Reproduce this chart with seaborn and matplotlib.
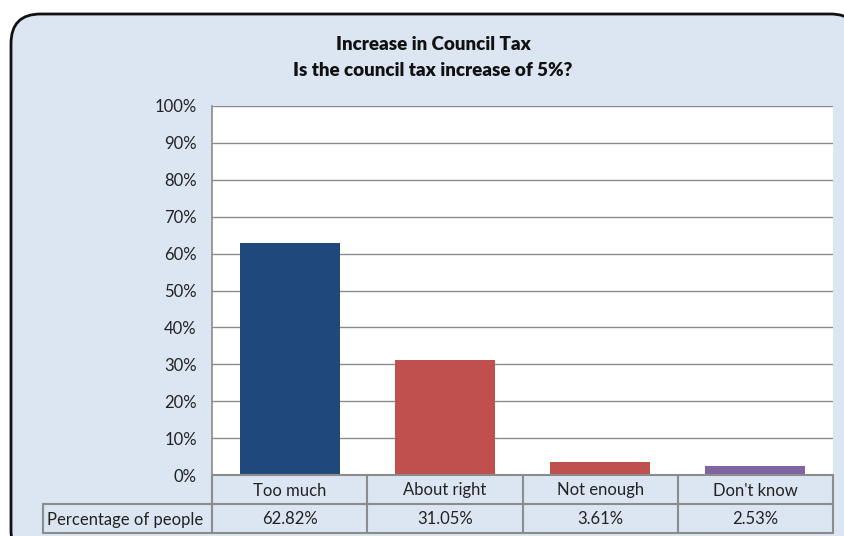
import matplotlib
matplotlib.use("Agg")
import matplotlib.pyplot as plt
import seaborn as sns
import pandas as pd
from matplotlib.patches import FancyBboxPatch
from matplotlib.lines import Line2D

categories = ["Too much", "About right", "Not enough", "Don't know"]
percentages = [62.82, 31.05, 3.61, 2.53]
bar_colors = ["#1F497D", "#C0504D", "#C0504D", "#8064A2"]
yticks = [0, 10, 20, 30, 40, 50, 60, 70, 80, 90, 100]
row_label = "Percentage of people"
title_lines = ["Increase in Council Tax", "Is the council tax increase of 5%?"]

sns.set_theme(style="white")
plt.rcParams["font.family"] = ["Lato", "DejaVu Sans"]

W, H = 844, 536
fig = plt.figure(figsize=(W / 100, H / 100), dpi=100)
fig.patch.set_facecolor("white")

def fx(px):
    return px / W

def fy(py):
    return 1 - py / H

panel_bg = "#DCE6F2"
grid_col = "#8A8A8A"

# rounded chart panel
panel = FancyBboxPatch((fx(11), fy(560)), fx(860) - fx(11), fy(14) - fy(560),
                       boxstyle="round,pad=0,rounding_size=0.035",
                       transform=fig.transFigure, facecolor=panel_bg,
                       edgecolor="#111111", linewidth=2.0, zorder=-10,
                       mutation_aspect=W / H)
fig.patches.append(panel)

x0, x1, ytop, ybot = 212, 833, 106, 475
ax = fig.add_axes([fx(x0), fy(ybot), fx(x1) - fx(x0), fy(ytop) - fy(ybot)])
ax.set_zorder(2)
ax.set_facecolor("white")

df = pd.DataFrame({"category": categories, "pct": percentages})
sns.barplot(data=df, x="category", y="pct", hue="category",
            palette=bar_colors, width=0.645, saturation=1, legend=False, ax=ax)
for p in ax.patches:
    p.set_edgecolor("none")

ax.set_ylim(0, 100)
ax.set_xlim(-0.5, 3.5)
ax.set_yticks(yticks)
ax.set_yticklabels([f"{t}%" for t in yticks], fontsize=12, color="#222222")
ax.tick_params(axis="y", length=0, pad=11)
ax.set_xticks([])
ax.set_xlabel("")
ax.set_ylabel("")
ax.yaxis.grid(True, color=grid_col, linewidth=1.0)
ax.set_axisbelow(True)
for s in ["top", "right"]:
    ax.spines[s].set_visible(False)
ax.spines["left"].set_color(grid_col)
ax.spines["bottom"].set_color(grid_col)
ax.spines["left"].set_linewidth(1.2)

# data table under the axes
row1_top, row1_bot, row2_bot = 475, 504, 533
label_left = 43
col_w = (x1 - x0) / len(categories)
edges = [x0 + i * col_w for i in range(len(categories) + 1)]
tcol = "#8C8C8C"

def hline(xa, xb, y):
    fig.add_artist(Line2D([fx(xa), fx(xb)], [fy(y), fy(y)], color=tcol, lw=1.5,
                          transform=fig.transFigure, zorder=3))

def vline(x, ya, yb):
    fig.add_artist(Line2D([fx(x), fx(x)], [fy(ya), fy(yb)], color=tcol, lw=1.5,
                          transform=fig.transFigure, zorder=3))

hline(x0, x1, row1_top)
hline(label_left, x1, row1_bot)
hline(label_left, x1, row2_bot)
for e in edges:
    vline(e, row1_top, row2_bot)
vline(label_left, row1_bot, row2_bot)

for i, (c, v) in enumerate(zip(categories, percentages)):
    cx = (edges[i] + edges[i + 1]) / 2
    fig.text(fx(cx), fy((row1_top + row1_bot) / 2 + 1), c, ha="center", va="center",
             fontsize=12, color="#222222")
    fig.text(fx(cx), fy((row1_bot + row2_bot) / 2 + 1), f"{v:.2f}%", ha="center",
             va="center", fontsize=12, color="#222222")
fig.text(fx(label_left + 4), fy((row1_bot + row2_bot) / 2 + 1), row_label,
         ha="left", va="center", fontsize=12, color="#222222")

fig.text(fx(433), fy(44), title_lines[0], ha="center", va="center",
         fontsize=13.5, fontweight="heavy", color="#111111")
fig.text(fx(433), fy(71), title_lines[1], ha="center", va="center",
         fontsize=13.5, fontweight="heavy", color="#111111")

fig.savefig("out.png", dpi=100)
